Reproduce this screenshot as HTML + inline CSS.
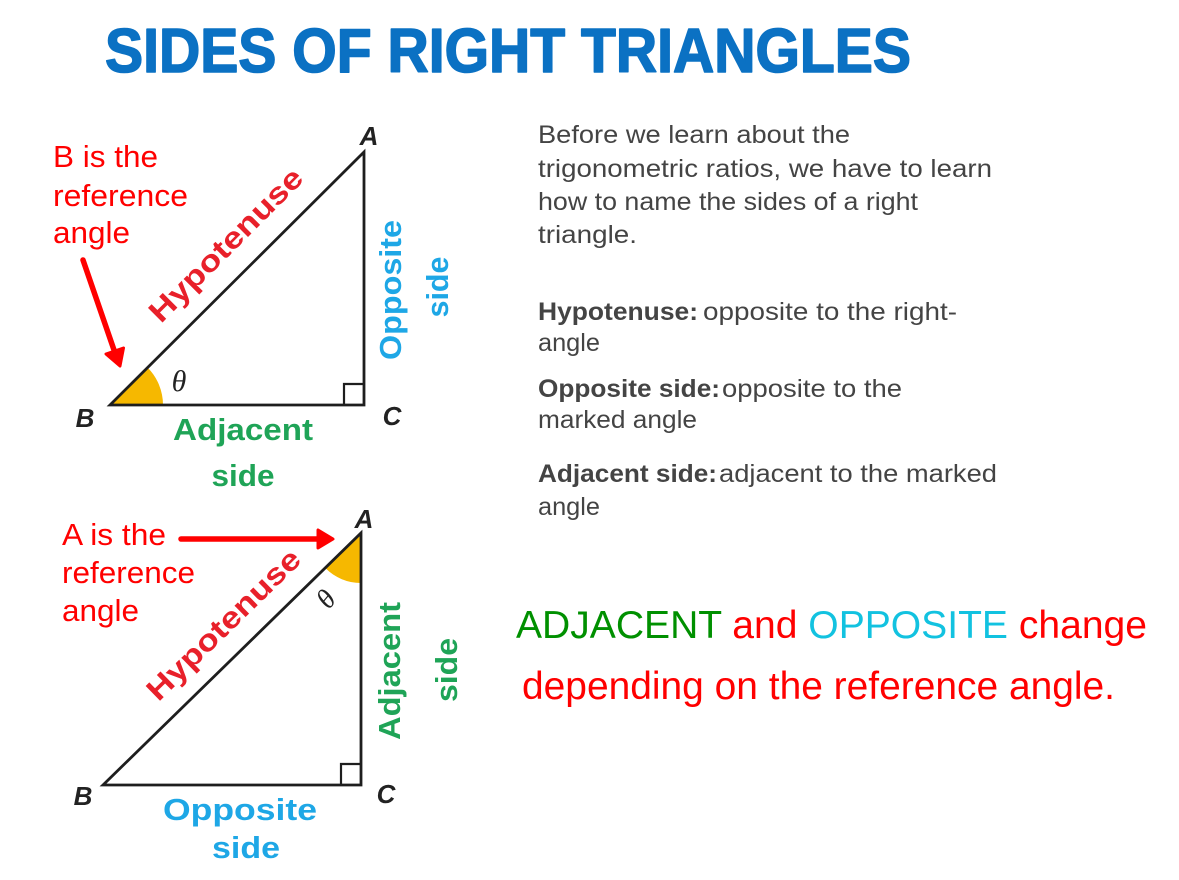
<!DOCTYPE html>
<html><head><meta charset="utf-8"><style>
html,body{margin:0;padding:0;background:#fff;}
svg{display:block;}
</style></head><body>
<svg width="1179" height="880" viewBox="0 0 1179 880" xmlns="http://www.w3.org/2000/svg">
<rect width="1179" height="880" fill="#fff"/>
<!-- Title -->
<text x="105" y="72" font-family="Liberation Sans, sans-serif" font-weight="bold" font-size="62" fill="#0b71c3" stroke="#0b71c3" stroke-width="1.6" stroke-linejoin="round" textLength="806" lengthAdjust="spacingAndGlyphs">SIDES OF RIGHT TRIANGLES</text>

<!-- Triangle 1 -->
<path d="M110,405 L163,405 A53,53 0 0 0 147.5,367.5 Z" fill="#f6b800"/>
<polygon points="110,405 364,152 364,405" fill="none" stroke="#1e1e1e" stroke-width="2.8" stroke-linejoin="miter"/>
<polyline points="344,405 344,384 364,384" fill="none" stroke="#1e1e1e" stroke-width="2.2"/>
<text x="179" y="391" font-family="Liberation Serif, serif" font-style="italic" font-size="30" fill="#222" text-anchor="middle">θ</text>
<text x="369" y="145" font-family="Liberation Sans, sans-serif" font-weight="bold" font-style="italic" font-size="26" fill="#222" text-anchor="middle">A</text>
<text x="85" y="427" font-family="Liberation Sans, sans-serif" font-weight="bold" font-style="italic" font-size="26" fill="#222" text-anchor="middle">B</text>
<text x="392" y="425" font-family="Liberation Sans, sans-serif" font-weight="bold" font-style="italic" font-size="26" fill="#222" text-anchor="middle">C</text>
<text transform="translate(233,252) rotate(-45)" x="0" y="0" font-family="Liberation Sans, sans-serif" font-weight="bold" font-size="30" fill="#e8202a" text-anchor="middle" textLength="204" lengthAdjust="spacingAndGlyphs">Hypotenuse</text>
<text transform="translate(401,290) rotate(-90)" x="0" y="0" font-family="Liberation Sans, sans-serif" font-weight="bold" font-size="31" fill="#1ea7e6" text-anchor="middle" textLength="140" lengthAdjust="spacingAndGlyphs">Opposite</text>
<text transform="translate(448,287) rotate(-90)" x="0" y="0" font-family="Liberation Sans, sans-serif" font-weight="bold" font-size="31" fill="#1ea7e6" text-anchor="middle" textLength="61" lengthAdjust="spacingAndGlyphs">side</text>
<text x="243" y="440" font-family="Liberation Sans, sans-serif" font-weight="bold" font-size="31" fill="#1fa457" text-anchor="middle" textLength="140" lengthAdjust="spacingAndGlyphs">Adjacent</text>
<text x="243" y="486" font-family="Liberation Sans, sans-serif" font-weight="bold" font-size="31" fill="#1fa457" text-anchor="middle" textLength="63" lengthAdjust="spacingAndGlyphs">side</text>

<!-- Annotation 1 -->
<g font-family="Liberation Sans, sans-serif" font-size="31" fill="#ff0000">
<text x="53" y="167" textLength="105" lengthAdjust="spacingAndGlyphs">B is the</text>
<text x="53" y="206" textLength="135" lengthAdjust="spacingAndGlyphs">reference</text>
<text x="53" y="243" textLength="77" lengthAdjust="spacingAndGlyphs">angle</text>
</g>
<line x1="83" y1="260" x2="114" y2="350" stroke="#ff0000" stroke-width="5.5" stroke-linecap="round"/>
<polygon points="120,366 123.5,348 106,354" fill="#ff0000" stroke="#ff0000" stroke-width="3" stroke-linejoin="round"/>

<!-- Triangle 2 -->
<path d="M361,533 L361,583 A50,50 0 0 1 325.2,567.9 Z" fill="#f6b800"/>
<polygon points="103,785 361,533 361,785" fill="none" stroke="#1e1e1e" stroke-width="2.8" stroke-linejoin="miter"/>
<polyline points="341,785 341,764 361,764" fill="none" stroke="#1e1e1e" stroke-width="2.2"/>
<text transform="translate(333,605) rotate(-50)" x="0" y="0" font-family="Liberation Serif, serif" font-style="italic" font-size="28" fill="#222" text-anchor="middle">θ</text>
<text x="364" y="528" font-family="Liberation Sans, sans-serif" font-weight="bold" font-style="italic" font-size="26" fill="#222" text-anchor="middle">A</text>
<text x="83" y="805" font-family="Liberation Sans, sans-serif" font-weight="bold" font-style="italic" font-size="26" fill="#222" text-anchor="middle">B</text>
<text x="386" y="803" font-family="Liberation Sans, sans-serif" font-weight="bold" font-style="italic" font-size="26" fill="#222" text-anchor="middle">C</text>
<text transform="translate(230.6,631.8) rotate(-44.3)" x="0" y="0" font-family="Liberation Sans, sans-serif" font-weight="bold" font-size="30" fill="#e8202a" text-anchor="middle" textLength="202" lengthAdjust="spacingAndGlyphs">Hypotenuse</text>
<text transform="translate(400,671) rotate(-90)" x="0" y="0" font-family="Liberation Sans, sans-serif" font-weight="bold" font-size="31" fill="#1fa457" text-anchor="middle" textLength="138" lengthAdjust="spacingAndGlyphs">Adjacent</text>
<text transform="translate(457,670) rotate(-90)" x="0" y="0" font-family="Liberation Sans, sans-serif" font-weight="bold" font-size="31" fill="#1fa457" text-anchor="middle" textLength="64" lengthAdjust="spacingAndGlyphs">side</text>
<text x="240" y="820" font-family="Liberation Sans, sans-serif" font-weight="bold" font-size="31" fill="#1ea7e6" text-anchor="middle" textLength="154" lengthAdjust="spacingAndGlyphs">Opposite</text>
<text x="246" y="858" font-family="Liberation Sans, sans-serif" font-weight="bold" font-size="31" fill="#1ea7e6" text-anchor="middle" textLength="68" lengthAdjust="spacingAndGlyphs">side</text>

<!-- Annotation 2 -->
<g font-family="Liberation Sans, sans-serif" font-size="31" fill="#ff0000">
<text x="62" y="545" textLength="104" lengthAdjust="spacingAndGlyphs">A is the</text>
<text x="62" y="583" textLength="133" lengthAdjust="spacingAndGlyphs">reference</text>
<text x="62" y="621" textLength="77" lengthAdjust="spacingAndGlyphs">angle</text>
</g>
<line x1="181" y1="539" x2="320" y2="539" stroke="#ff0000" stroke-width="5.5" stroke-linecap="round"/>
<polygon points="333,539 318,530 318,548" fill="#ff0000" stroke="#ff0000" stroke-width="3" stroke-linejoin="round"/>

<!-- Right column body text -->
<g font-family="Liberation Sans, sans-serif" font-size="25" fill="#444">
<text x="538" y="143" textLength="312" lengthAdjust="spacingAndGlyphs">Before we learn about the</text>
<text x="538" y="177" textLength="454" lengthAdjust="spacingAndGlyphs">trigonometric ratios, we have to learn</text>
<text x="538" y="210" textLength="380" lengthAdjust="spacingAndGlyphs">how to name the sides of a right</text>
<text x="538" y="243" textLength="99" lengthAdjust="spacingAndGlyphs">triangle.</text>

<text x="538" y="320" font-weight="bold" textLength="160" lengthAdjust="spacingAndGlyphs">Hypotenuse:</text>
<text x="703" y="320" textLength="254" lengthAdjust="spacingAndGlyphs">opposite to the right-</text>
<text x="538" y="351" textLength="62" lengthAdjust="spacingAndGlyphs">angle</text>

<text x="538" y="397" font-weight="bold" textLength="182" lengthAdjust="spacingAndGlyphs">Opposite side:</text>
<text x="722" y="397" textLength="180" lengthAdjust="spacingAndGlyphs">opposite to the</text>
<text x="538" y="428" textLength="159" lengthAdjust="spacingAndGlyphs">marked angle</text>

<text x="538" y="482" font-weight="bold" textLength="179" lengthAdjust="spacingAndGlyphs">Adjacent side:</text>
<text x="719" y="482" textLength="278" lengthAdjust="spacingAndGlyphs">adjacent to the marked</text>
<text x="538" y="515" textLength="62" lengthAdjust="spacingAndGlyphs">angle</text>
</g>

<!-- Bottom statement -->
<text x="516" y="638" font-family="Liberation Sans, sans-serif" font-size="39" textLength="631" lengthAdjust="spacingAndGlyphs"><tspan fill="#009000">ADJACENT</tspan><tspan fill="#ff0000"> and </tspan><tspan fill="#12c2e0">OPPOSITE</tspan><tspan fill="#ff0000"> change</tspan></text>
<text x="522" y="699" font-family="Liberation Sans, sans-serif" font-size="39" fill="#ff0000" textLength="593" lengthAdjust="spacingAndGlyphs">depending on the reference angle.</text>
</svg>
</body></html>
